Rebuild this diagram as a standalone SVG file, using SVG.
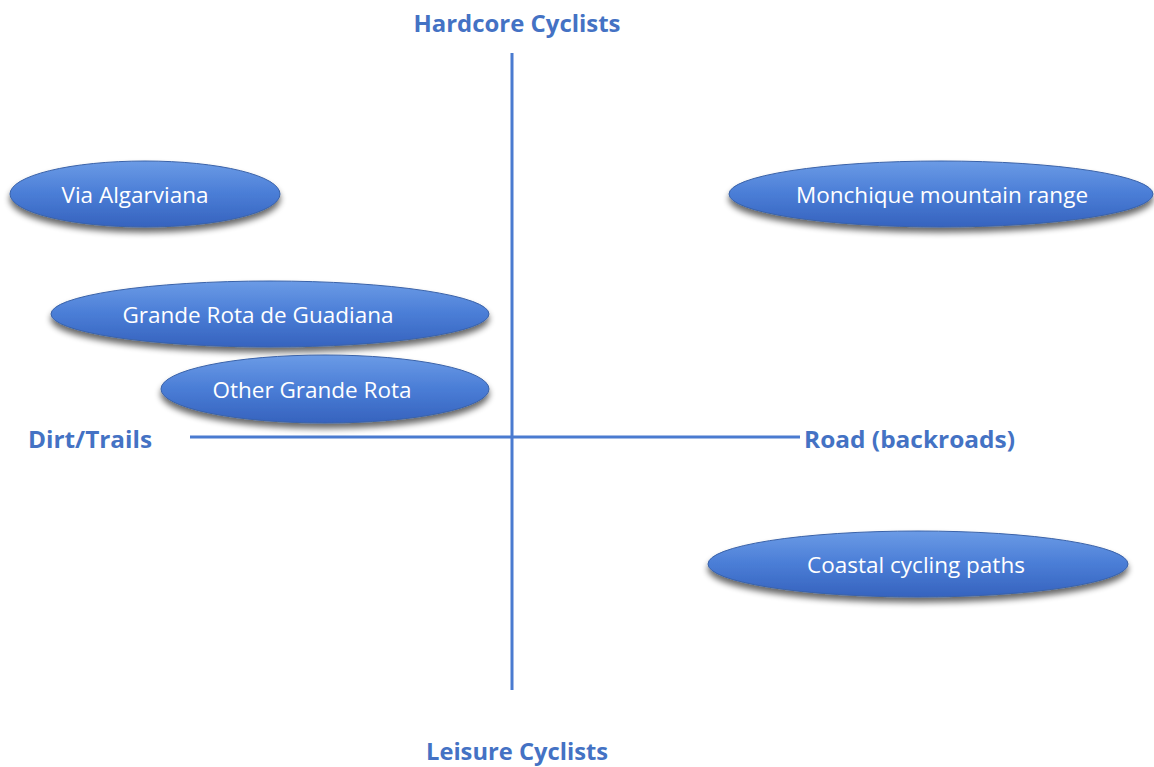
<svg xmlns="http://www.w3.org/2000/svg" width="1154" height="767" viewBox="0 0 1154 767">
<style>
.axis{stroke:#4A7BD0;stroke-width:3;fill:none}
.lab{font-family:"Open Sans","Liberation Sans",sans-serif;font-weight:bold;font-size:23px;fill:#4472C4}
.node ellipse{fill:url(#g);stroke:#3A62A8;stroke-width:1;filter:url(#sh)}
.node text{font-family:"Open Sans","Liberation Sans",sans-serif;font-size:22.5px;fill:#fff;text-anchor:middle}
</style>
<defs>
<linearGradient id="g" x1="0" y1="0" x2="0" y2="1">
<stop offset="0" stop-color="#6B9BE6"/>
<stop offset="0.5" stop-color="#4A7DD6"/>
<stop offset="1" stop-color="#3663BE"/>
</linearGradient>
<filter id="sh" x="-10%" y="-30%" width="120%" height="170%">
<feGaussianBlur in="SourceAlpha" stdDeviation="3"/>
<feOffset dx="0" dy="5" result="b"/>
<feComponentTransfer><feFuncA type="linear" slope="0.6"/></feComponentTransfer>
<feMerge><feMergeNode/><feMergeNode in="SourceGraphic"/></feMerge>
</filter>
</defs>
<rect width="1154" height="767" fill="#fff"/>
<g id="connectors">
<line class="axis" x1="512" y1="53" x2="512" y2="690"/>
<line class="axis" x1="190" y1="437" x2="800" y2="437"/>
</g>
<g id="labels">
<text class="lab" x="517" y="32" text-anchor="middle" textLength="207" lengthAdjust="spacingAndGlyphs">Hardcore Cyclists</text>
<text class="lab" x="517" y="760" text-anchor="middle" textLength="182" lengthAdjust="spacingAndGlyphs">Leisure Cyclists</text>
<text class="lab" x="28" y="448" textLength="124" lengthAdjust="spacingAndGlyphs">Dirt/Trails</text>
<text class="lab" x="804" y="448" textLength="211" lengthAdjust="spacingAndGlyphs">Road (backroads)</text>
</g>
<g id="n1" class="node"><ellipse cx="145" cy="194" rx="135" ry="33"/><text x="135" y="203">Via Algarviana</text></g>
<g id="n2" class="node"><ellipse cx="270" cy="314" rx="219" ry="33"/><text x="258" y="323">Grande Rota de Guadiana</text></g>
<g id="n3" class="node"><ellipse cx="325" cy="389" rx="164" ry="34"/><text x="312" y="398">Other Grande Rota</text></g>
<g id="n4" class="node"><ellipse cx="941" cy="194" rx="212" ry="33"/><text x="942" y="203">Monchique mountain range</text></g>
<g id="n5" class="node"><ellipse cx="918" cy="564" rx="210" ry="33"/><text x="916" y="573">Coastal cycling paths</text></g>
</svg>
